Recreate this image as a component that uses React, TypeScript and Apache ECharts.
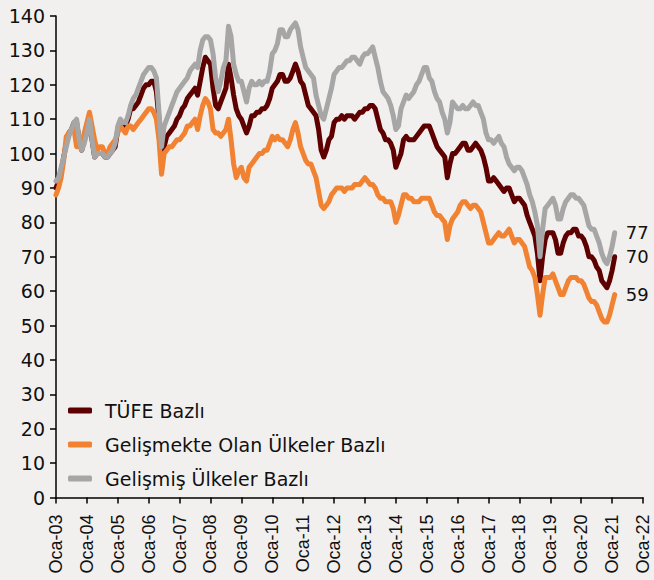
import React, { useEffect, useRef } from "react";
import * as echarts from "echarts";

const monthNames = ["Oca", "Şub", "Mar", "Nis", "May", "Haz", "Tem", "Ağu", "Eyl", "Eki", "Kas", "Ara"];
const startYear = 2003;
const endYear = 2022;

const seriesNames = ["TÜFE Bazlı", "Gelişmekte Olan Ülkeler Bazlı", "Gelişmiş Ülkeler Bazlı"];
const colors = ["#5e0000", "#f08232", "#a6a6a6"];

// Monthly values, Jan 2003 - Feb 2021
const tufe = [
  90, 92, 95, 99, 103, 106, 107, 109, 109, 104, 101, 104,
  106, 109, 104, 99, 100, 100, 100, 99, 99, 100, 101, 102,
  107, 109, 108, 108, 110, 113, 113, 114, 115, 117, 119, 120,
  120, 121, 121, 118, 110, 101, 102, 105, 106, 107, 108, 110,
  111, 113, 114, 116, 117, 118, 119, 117, 121, 125, 128, 127,
  126, 119, 114, 113, 115, 117, 119, 126, 122, 117, 113, 111,
  110, 108, 106, 108, 111, 111, 112, 112, 113, 113, 114, 116,
  119, 120, 121, 123, 123, 121, 121, 122, 124, 126, 124, 121,
  120, 117, 114, 113, 112, 111, 107, 101, 99, 101, 104, 105,
  109, 110, 110, 111, 110, 111, 111, 111, 110, 111, 112, 112,
  113, 113, 114, 114, 113, 110, 107, 106, 104, 104, 103, 101,
  96, 98, 100, 104, 105, 104, 104, 104, 105, 106, 107, 108,
  108, 108, 106, 104, 102, 101, 100, 99, 93, 97, 100, 100,
  101, 102, 103, 103, 101, 101, 102, 103, 102, 101, 99, 96,
  92, 92, 93, 92, 91, 90, 89, 90, 90, 88, 86, 87,
  87, 86, 85, 82, 80, 78, 76, 71, 63, 70, 75, 77,
  77, 77, 75, 71, 71, 74, 76, 77, 77, 78, 78, 76,
  76, 75, 73, 70, 70, 69, 67, 66, 63, 62, 61, 63,
  66, 70,
];

const gelismekte = [
  88, 90, 93, 98, 105, 106, 107, 107, 102, 102, 103, 106,
  109, 112, 108, 104, 101, 102, 102, 100, 100, 102, 103, 104,
  106, 108, 107, 106, 108, 108, 107, 108, 109, 110, 111, 112,
  113, 113, 112, 110, 104, 94, 100, 101, 102, 102, 103, 104,
  104, 105, 106, 108, 108, 109, 110, 107, 111, 114, 116, 115,
  113, 107, 106, 106, 105, 106, 107, 110, 104, 97, 93, 95,
  96, 93, 92, 96, 97, 98, 99, 100, 100, 101, 101, 103,
  105, 104, 105, 104, 104, 103, 102, 104, 107, 109, 106, 102,
  100, 98, 97, 97, 95, 93, 89, 85, 84, 85, 86, 88,
  89, 90, 90, 90, 89, 90, 90, 90, 91, 91, 91, 92,
  93, 92, 91, 91, 90, 88, 87, 87, 86, 86, 86, 84,
  80, 82, 85, 88, 88, 87, 87, 86, 86, 86, 87, 87,
  87, 87, 85, 83, 82, 82, 81, 80, 75, 79, 81, 82,
  83, 85, 86, 86, 85, 84, 85, 85, 84, 83, 80, 77,
  74, 74, 75, 76, 77, 76, 76, 77, 78, 76, 74, 75,
  75, 74, 73, 70, 67, 66, 64, 59, 53, 59, 64, 64,
  64, 65, 63, 61, 59, 59, 61, 63, 64, 64, 64, 63,
  63, 62, 60, 58, 57, 57, 56, 54, 52, 51, 51, 53,
  56, 59,
];

const gelismis = [
  92, 93, 96, 99, 102, 105, 107, 109, 110, 104, 101, 103,
  106, 110, 104, 99, 100, 100, 100, 99, 99, 100, 101, 103,
  108, 110, 109, 109, 111, 114, 116, 117, 119, 121, 123, 124,
  125, 125, 124, 122, 112, 102, 108, 110, 112, 114, 116, 118,
  119, 120, 121, 122, 124, 125, 126, 125, 130, 133, 134, 134,
  133, 129, 122, 118, 121, 125, 127, 137, 134, 126, 123, 121,
  121, 118, 115, 119, 121, 120, 120, 121, 120, 121, 121, 124,
  129, 130, 132, 136, 136, 134, 134, 136, 137, 138, 136, 131,
  128, 125, 124, 123, 122, 117, 114, 111, 110, 113, 116, 119,
  123, 124, 125, 125, 126, 127, 127, 128, 128, 127, 126, 128,
  129, 129, 130, 131, 128, 125, 121, 118, 117, 116, 114, 111,
  107, 108, 113, 115, 117, 116, 117, 118, 120, 121, 123, 125,
  125, 122, 121, 118, 116, 115, 112, 110, 106, 109, 115, 114,
  113, 113, 114, 113, 113, 114, 115, 114, 114, 112, 110, 106,
  104, 104, 103, 104, 105, 103, 102, 99, 97, 96, 95, 96,
  96, 95, 93, 91, 88, 86, 83, 79, 70, 78, 84, 85,
  86, 87, 85, 81, 81, 84, 86, 87, 88, 88, 87, 87,
  86, 85, 82, 79, 78, 78, 76, 74, 71, 69, 68, 70,
  73, 77,
];

const categories: string[] = [];
for (let y = startYear; y <= endYear; y++) {
  for (let m = 0; m < 12; m++) {
    if (y === endYear && m > 0) break;
    categories.push(monthNames[m] + "-" + String(y % 100).padStart(2, "0"));
  }
}

const FONT = "DejaVu Sans";

export default function App() {
  const ref = useRef<HTMLDivElement>(null);
  useEffect(() => {
    if (!ref.current) return;
    const chart = echarts.init(ref.current, null, { renderer: "svg" });
    const mk = (name: string, data: number[], color: string) => ({
      name,
      type: "line",
      data,
      showSymbol: false,
      symbol: "none",
      lineStyle: { color, width: 5, cap: "round", join: "round" },
      itemStyle: { color },
      endLabel: {
        show: true,
        formatter: (p: any) => String(Math.round(p.value)),
        distance: 11,
        color: "#111",
        fontSize: 18,
        fontFamily: FONT,
      },
    });
    chart.setOption({
      animation: false,
      backgroundColor: "#f2f0ef",
      grid: { left: 56, right: 11, top: 16, bottom: 82.5, containLabel: false },
      legend: {
        orient: "vertical",
        left: 68,
        top: 401,
        padding: 0,
        itemGap: 15,
        itemWidth: 24,
        itemHeight: 6,
        icon: "roundRect",
        data: seriesNames,
        textStyle: { fontSize: 19, fontFamily: FONT, color: "#111", padding: [0, 0, 0, 8] },
      },
      xAxis: {
        type: "category",
        data: categories,
        boundaryGap: false,
        axisLine: { lineStyle: { color: "#000", width: 1.5 } },
        axisTick: { interval: 11, length: 6, lineStyle: { color: "#000", width: 1.5 } },
        axisLabel: {
          interval: 11,
          rotate: 90,
          margin: 17,
          fontSize: 18,
          fontFamily: "Liberation Sans",
          color: "#111",
        },
        splitLine: { show: false },
      },
      yAxis: {
        type: "value",
        min: 0,
        max: 140,
        interval: 10,
        axisLine: { show: true, lineStyle: { color: "#000", width: 1.5 } },
        axisTick: { show: true, length: 6, lineStyle: { color: "#000", width: 1.5 } },
        axisLabel: { margin: 11, fontSize: 19, fontFamily: FONT, color: "#111" },
        splitLine: { show: false },
      },
      series: [
        mk(seriesNames[0], tufe, colors[0]),
        mk(seriesNames[1], gelismekte, colors[1]),
        mk(seriesNames[2], gelismis, colors[2]),
      ],
    });
    return () => chart.dispose();
  }, []);
  return (
    <div
      ref={ref}
      style={{ position: "fixed", left: 0, top: 0, width: 654, height: 580 }}
    />
  );
}
